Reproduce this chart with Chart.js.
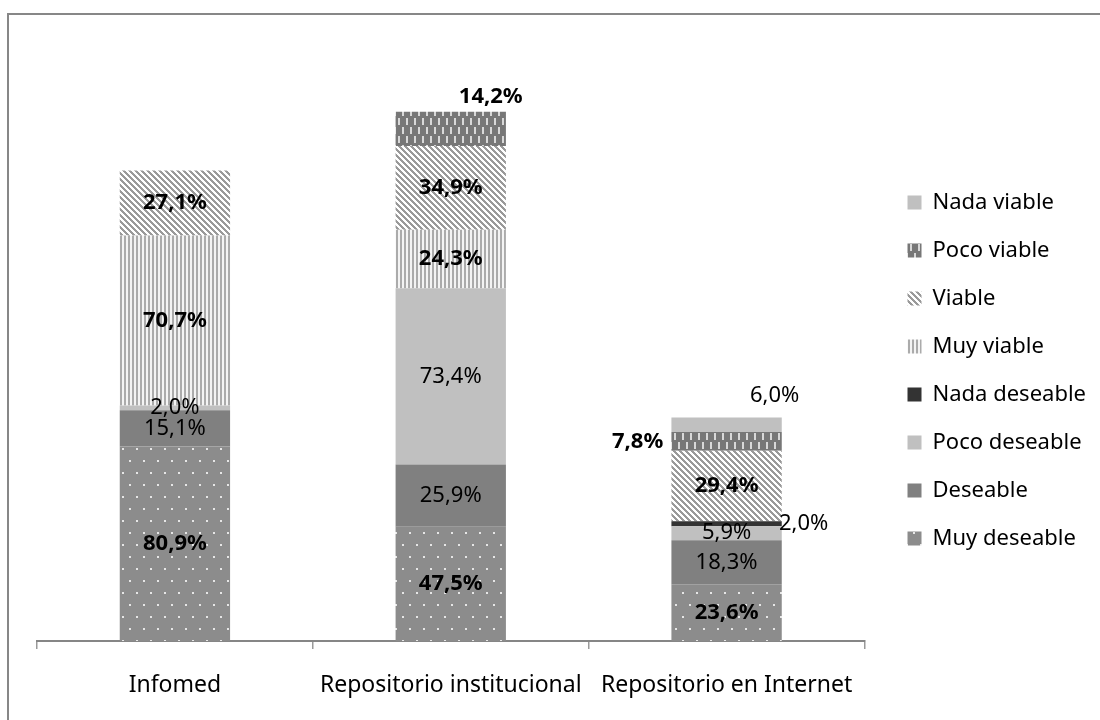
<!DOCTYPE html>
<html>
<head>
<meta charset="utf-8">
<script src="https://cdn.jsdelivr.net/npm/chart.js@4.4.1/dist/chart.umd.min.js"></script>
<style>
  html, body { margin: 0; padding: 0; background: #ffffff; }
  #c { display: block; }
</style>
</head>
<body>
<canvas id="c" width="1100" height="720"></canvas>
<script>
// ---- Data (stack order: bottom to top) ----
const categories   = ['Infomed', 'Repositorio institucional', 'Repositorio en Internet'];
const seriesNames  = ['Muy deseable', 'Deseable', 'Poco deseable', 'Nada deseable',
                      'Muy viable', 'Viable', 'Poco viable', 'Nada viable'];
const muyDeseable  = [80.9, 47.5, 23.6];
const deseable     = [15.1, 25.9, 18.3];
const pocoDeseable = [2.0, 73.4, 5.9];
const nadaDeseable = [0, 0, 2.0];
const muyViable    = [70.7, 24.3, 0];
const viable       = [27.1, 34.9, 29.4];
const pocoViable   = [0, 14.2, 7.8];
const nadaViable   = [0, 0, 6.0];
const seriesValues = [muyDeseable, deseable, pocoDeseable, nadaDeseable,
                      muyViable, viable, pocoViable, nadaViable];

// ---- Styles ----
const FONT = '"Noto Sans", "Open Sans", sans-serif';
const boldLabels = [true, false, false, false, true, true, true, false];
// label offsets (px) for labels moved outside their segment: key "series:category"
const labelOffsets = {
  '6:1': [40, -32],
  '6:2': [-89, 0],
  '7:2': [48, -29],
  '3:2': [77, 0]
};

function makePattern(w, h, draw) {
  const cv = document.createElement('canvas');
  cv.width = w; cv.height = h;
  const g = cv.getContext('2d');
  draw(g, w, h);
  return g.createPattern(cv, 'repeat');
}

const fills = [
  // Muy deseable: gray with white dots, staggered
  makePattern(14, 24, (g, w, h) => {
    g.fillStyle = '#8c8c8c'; g.fillRect(0, 0, w, h);
    g.fillStyle = '#e6e6e6';
    g.fillRect(3, 4, 2, 2);
    g.fillRect(10, 16, 2, 2);
  }),
  // Deseable: solid
  '#808080',
  // Poco deseable
  '#c0c0c0',
  // Nada deseable
  '#333333',
  // Muy viable: vertical stripes
  makePattern(4, 4, (g, w, h) => {
    g.fillStyle = '#f4f4f4'; g.fillRect(0, 0, w, h);
    g.fillStyle = '#ababab'; g.fillRect(0, 0, 2, h);
  }),
  // Viable: diagonal stripes (top-left to bottom-right)
  makePattern(6, 6, (g, w, h) => {
    g.fillStyle = '#ffffff'; g.fillRect(0, 0, w, h);
    g.fillStyle = '#9a9a9a';
    for (let y = 0; y < h; y++) {
      for (let k = -1; k <= 1; k++) {
        const x = (y + k * 6);
        g.fillRect(x, y, 3, 1);
      }
    }
  }),
  // Poco viable: dark gray with white vertical dashes
  makePattern(8, 18, (g, w, h) => {
    g.fillStyle = '#777777'; g.fillRect(0, 0, w, h);
    g.fillStyle = '#d8d8d8';
    g.fillRect(2, 1, 2, 7);
    g.fillRect(6, 10, 2, 7);
  }),
  // Nada viable
  '#c0c0c0'
];

const datasets = seriesNames.map((name, i) => ({
  label: name,
  data: seriesValues[i],
  backgroundColor: fills[i],
  borderWidth: 0,
  barPercentage: 0.4,
  categoryPercentage: 1.0
}));

const frame = {
  id: 'frame',
  beforeDraw(chart) {
    const c = chart.ctx;
    c.save();
    c.strokeStyle = '#878787';
    c.lineWidth = 2;
    c.beginPath();
    c.moveTo(8, 720);
    c.lineTo(8, 14);
    c.lineTo(1100, 14);
    c.stroke();
    c.restore();
  }
};

const valueLabels = {
  id: 'valueLabels',
  afterDatasetsDraw(chart) {
    const c = chart.ctx;
    c.save();
    c.textAlign = 'center';
    c.textBaseline = 'middle';
    c.fillStyle = '#000000';
    chart.data.datasets.forEach((ds, di) => {
      const meta = chart.getDatasetMeta(di);
      meta.data.forEach((el, idx) => {
        const v = ds.data[idx];
        if (!v) return;
        const off = labelOffsets[di + ':' + idx] || [0, 0];
        const x = el.x + off[0];
        const y = (el.y + el.base) / 2 + off[1];
        c.font = (boldLabels[di] ? 'bold ' : '') + '22px ' + FONT;
        c.fillText(v.toFixed(1).replace('.', ',') + '%', x, y);
      });
    });
    c.restore();
  }
};

new Chart(document.getElementById('c'), {
  type: 'bar',
  data: { labels: categories, datasets },
  options: {
    responsive: false,
    animation: false,
    devicePixelRatio: 1,
    layout: { padding: { left: 37, top: 21, right: 4, bottom: 0 } },
    plugins: {
      tooltip: { enabled: false },
      legend: {
        position: 'right',
        reverse: true,
        labels: {
          boxWidth: 14,
          boxHeight: 14,
          padding: 26,
          color: '#000000',
          font: { family: FONT, size: 22 }
        }
      }
    },
    scales: {
      x: {
        stacked: true,
        offset: true,
        grid: {
          offset: true,
          drawOnChartArea: false,
          drawTicks: true,
          tickLength: 8,
          color: '#9a9a9a',
          lineWidth: 1.5
        },
        border: { display: true, color: '#868686', width: 2 },
        ticks: {
          color: '#000000',
          padding: 23,
          maxRotation: 0,
          font: { family: FONT, size: 23 }
        },
        afterFit(scale) { scale.height = 79; }
      },
      y: {
        stacked: true,
        position: 'right',
        min: 0,
        max: 258,
        grid: { display: false },
        border: { display: false },
        ticks: { display: false },
        afterFit(scale) { scale.width = 17; }
      }
    }
  },
  plugins: [frame, valueLabels]
});
</script>
</body>
</html>
